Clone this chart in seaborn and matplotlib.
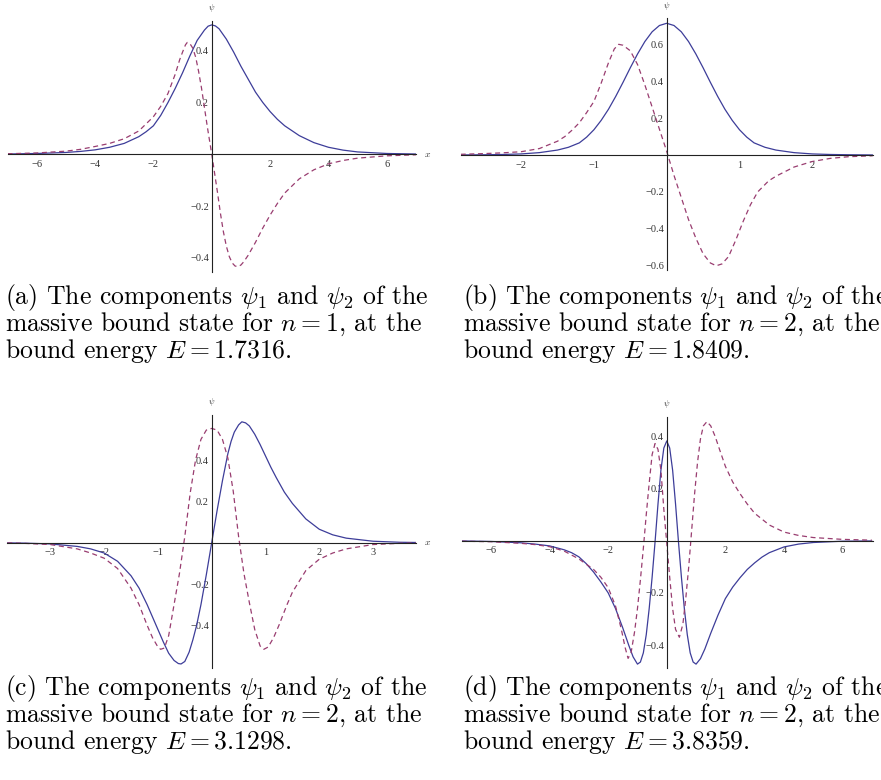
import matplotlib
matplotlib.use("Agg")
import matplotlib.pyplot as plt
import seaborn as sns

# ---------------- data ----------------
# (a) n = 1, E = 1.7316
xa_psi1 = [-7, -6, -5, -4.5, -4, -3.5, -3, -2.5, -2.25, -2, -1.75, -1.5, -1.25, -1, -0.75, -0.5, -0.25, -0.125, 0,
           0.125, 0.25, 0.5, 0.75, 1, 1.25, 1.5, 1.75, 2, 2.25, 2.5, 3, 3.5, 4, 4.5, 5, 6, 7]
ya_psi1 = [0.001, 0.003, 0.007, 0.011, 0.017, 0.027, 0.042, 0.068, 0.087, 0.11, 0.15, 0.2, 0.255, 0.315, 0.38, 0.44,
           0.48, 0.495, 0.5,
           0.496, 0.485, 0.445, 0.395, 0.34, 0.29, 0.24, 0.2, 0.165, 0.135, 0.11, 0.072, 0.045, 0.027, 0.016, 0.009,
           0.003, 0.001]
xa_psi2 = [-7, -6, -5, -4.5, -4, -3.5, -3, -2.5, -2, -1.75, -1.5, -1.25, -1.1, -1, -0.9, -0.84, -0.75, -0.65, -0.55,
           -0.45, -0.35, -0.25, -0.15, -0.05, 0, 0.1, 0.2, 0.3, 0.4, 0.5, 0.6, 0.7, 0.8, 0.9, 1.0, 1.1, 1.25, 1.5,
           1.75, 2, 2.25, 2.5, 3, 3.5, 4, 4.5, 5, 6, 7]
ya_psi2 = [0.002, 0.005, 0.012, 0.019, 0.03, 0.042, 0.06, 0.09, 0.145, 0.185, 0.235, 0.31, 0.365, 0.395, 0.423, 0.432,
           0.428, 0.41, 0.375, 0.32, 0.255, 0.18, 0.105, 0.035, 0.0, -0.075, -0.15, -0.23, -0.3, -0.355, -0.395, -0.42,
           -0.432, -0.434, -0.428, -0.415, -0.39, -0.34, -0.285, -0.235, -0.19, -0.15, -0.095, -0.06, -0.037, -0.024,
           -0.015, -0.006, -0.002]

# (b) n = 2, E = 1.8409
xb_psi1 = [-2.83, -2.5, -2.25, -2, -1.75, -1.5, -1.35, -1.2, -1.1, -1.0, -0.9, -0.8, -0.7, -0.6, -0.5, -0.4, -0.3, -0.2,
           -0.1, 0, 0.1, 0.2, 0.3, 0.4, 0.5, 0.6, 0.7, 0.8, 0.9, 1.0, 1.1, 1.2, 1.35, 1.5, 1.75, 2, 2.25, 2.5, 2.83]
yb_psi1 = [0.0005, 0.0015, 0.003, 0.006, 0.013, 0.027, 0.042, 0.066, 0.097, 0.137, 0.188, 0.248, 0.318, 0.394, 0.473,
           0.548, 0.615, 0.668, 0.702, 0.714, 0.702, 0.668, 0.615, 0.548, 0.473, 0.394, 0.318, 0.248, 0.188, 0.137,
           0.097, 0.066, 0.042, 0.027, 0.013, 0.006, 0.003, 0.0015, 0.0005]
xb_psi2 = [-2.83, -2.5, -2.25, -2, -1.75, -1.5, -1.4, -1.3, -1.2, -1.1, -1.0, -0.9, -0.8, -0.72, -0.66, -0.6, -0.5,
           -0.4, -0.3, -0.2, -0.1, 0, 0.1, 0.2, 0.3, 0.4, 0.5, 0.6, 0.68, 0.76, 0.85, 0.95, 1.05, 1.15, 1.25, 1.4,
           1.5, 1.75, 2.0, 2.25, 2.5, 2.83]
yb_psi2 = [0.004, 0.008, 0.012, 0.018, 0.035, 0.075, 0.1, 0.135, 0.175, 0.23, 0.29, 0.39, 0.5, 0.575, 0.6, 0.595,
           0.565, 0.49, 0.38, 0.26, 0.14, 0.02, -0.11, -0.23, -0.35, -0.45, -0.535, -0.585, -0.6, -0.59, -0.55,
           -0.46, -0.36, -0.27, -0.2, -0.14, -0.115, -0.065, -0.035, -0.018, -0.009, -0.004]

# (c) n = 2, E = 3.1298
xc_psi1 = [-3.8, -3.5, -3, -2.5, -2.25, -2, -1.75, -1.5, -1.35, -1.2, -1.1, -1.0, -0.9, -0.8, -0.7, -0.62, -0.57, -0.5,
           -0.42, -0.35, -0.28, -0.2, -0.1, 0, 0.1, 0.2, 0.3, 0.36, 0.42, 0.5, 0.56, 0.63, 0.7, 0.8, 0.9, 1.0, 1.1,
           1.2, 1.35, 1.5, 1.75, 2, 2.25, 2.5, 3, 3.5, 3.8]
yc_psi1 = [-0.001, -0.002, -0.006, -0.018, -0.03, -0.05, -0.09, -0.16, -0.22, -0.3, -0.36, -0.42, -0.48, -0.535, -0.57,
           -0.585, -0.587, -0.575, -0.53, -0.47, -0.4, -0.3, -0.155, 0.0, 0.155, 0.3, 0.43, 0.49, 0.535, 0.57, 0.585,
           0.58, 0.565, 0.525, 0.475, 0.42, 0.365, 0.315, 0.245, 0.19, 0.115, 0.065, 0.038, 0.022, 0.007, 0.002, 0.001]
xc_psi2 = [-3.8, -3.5, -3, -2.5, -2.25, -2, -1.75, -1.5, -1.35, -1.2, -1.1, -1.0, -0.95, -0.88, -0.8, -0.7, -0.6, -0.5,
           -0.4, -0.3, -0.2, -0.1, 0, 0.1, 0.2, 0.3, 0.4, 0.5, 0.6, 0.7, 0.8, 0.9, 0.97, 1.05, 1.15, 1.25, 1.4, 1.5,
           1.75, 2, 2.25, 2.5, 3, 3.5, 3.8]
yc_psi2 = [-0.001, -0.003, -0.009, -0.03, -0.05, -0.075, -0.125, -0.22, -0.3, -0.4, -0.46, -0.505, -0.516, -0.51,
           -0.45, -0.3, -0.15, 0.03, 0.24, 0.4, 0.5, 0.545, 0.553, 0.545, 0.5, 0.41, 0.25, 0.03, -0.15, -0.29, -0.42,
           -0.5, -0.516, -0.505, -0.46, -0.4, -0.3, -0.24, -0.135, -0.08, -0.05, -0.03, -0.009, -0.003, -0.001]

# (d) n = 2, E = 3.8359
xd_psi1 = [-7, -6, -5, -4.5, -4, -3.5, -3.25, -3, -2.75, -2.5, -2.25, -2, -1.75, -1.5, -1.3, -1.15, -1.0, -0.9, -0.8,
           -0.7, -0.6, -0.5, -0.4, -0.3, -0.2, -0.1, 0, 0.1, 0.2, 0.3, 0.4, 0.5, 0.6, 0.7, 0.8, 0.9, 1.0, 1.15, 1.3,
           1.5, 1.75, 2, 2.25, 2.5, 2.75, 3, 3.25, 3.5, 4, 4.5, 5, 6, 7]
yd_psi1 = [-0.001, -0.003, -0.008, -0.013, -0.02, -0.035, -0.046, -0.062, -0.088, -0.12, -0.158, -0.2, -0.26, -0.335,
           -0.4, -0.445, -0.473, -0.465, -0.43, -0.36, -0.26, -0.14, -0.005, 0.14, 0.27, 0.355, 0.382, 0.355, 0.27,
           0.14, -0.005, -0.14, -0.26, -0.36, -0.43, -0.465, -0.473, -0.452, -0.415, -0.355, -0.285, -0.222, -0.178,
           -0.142, -0.11, -0.085, -0.063, -0.046, -0.024, -0.013, -0.007, -0.002, -0.001]
xd_psi2 = [-7, -6, -5, -4.5, -4, -3.5, -3, -2.5, -2.25, -2, -1.75, -1.55, -1.42, -1.32, -1.22, -1.1, -1.0, -0.9, -0.8,
           -0.7, -0.6, -0.5, -0.4, -0.3, -0.2, -0.1, 0, 0.1, 0.2, 0.3, 0.43, 0.55, 0.65, 0.75, 0.85, 0.95, 1.05, 1.15,
           1.25, 1.37, 1.5, 1.65, 1.8, 2, 2.25, 2.5, 2.75, 3, 3.5, 4, 4.5, 5, 6, 7]
yd_psi2 = [-0.002, -0.004, -0.01, -0.015, -0.023, -0.04, -0.07, -0.11, -0.14, -0.18, -0.25, -0.34, -0.41, -0.451,
           -0.43, -0.35, -0.26, -0.15, -0.03, 0.1, 0.22, 0.33, 0.372, 0.35, 0.27, 0.12, -0.01, -0.14, -0.26, -0.34,
           -0.37, -0.32, -0.22, -0.1, 0.04, 0.18, 0.3, 0.39, 0.44, 0.456, 0.44, 0.4, 0.35, 0.285, 0.225, 0.18, 0.14,
           0.105, 0.06, 0.033, 0.02, 0.012, 0.005, 0.002]

# tick values and labels
xticks_a = [-6, -4, -2, 2, 4, 6]
yticks_a = [-0.4, -0.2, 0.2, 0.4]
xticks_b = [-2, -1, 1, 2]
yticks_b = [-0.6, -0.4, -0.2, 0.2, 0.4, 0.6]
xticks_c = [-3, -2, -1, 1, 2, 3]
yticks_c = [-0.4, -0.2, 0.2, 0.4]
xticks_d = [-6, -4, -2, 2, 4, 6]
yticks_d = [-0.4, -0.2, 0.2, 0.4]

captions_a = [r"(a) The components $\psi_1$ and $\psi_2$ of the",
              r"massive bound state for $n=1$, at the",
              r"bound energy $E=1.7316$."]
captions_b = [r"(b) The components $\psi_1$ and $\psi_2$ of the",
              r"massive bound state for $n=2$, at the",
              r"bound energy $E=1.8409$."]
captions_c = [r"(c) The components $\psi_1$ and $\psi_2$ of the",
              r"massive bound state for $n=2$, at the",
              r"bound energy $E=3.1298$."]
captions_d = [r"(d) The components $\psi_1$ and $\psi_2$ of the",
              r"massive bound state for $n=2$, at the",
              r"bound energy $E=3.8359$."]

# ---------------- style ----------------
sns.set_style("white")
plt.rcParams["mathtext.fontset"] = "cm"
plt.rcParams["lines.scale_dashes"] = False
plt.rcParams["font.family"] = ["Liberation Serif", "DejaVu Serif"]

W, H = 881, 780
fig = plt.figure(figsize=(W / 100, H / 100), dpi=100)

BLUE = "#3d3d99"
MAGENTA = "#993d70"


def fmt(v):
    s = ("%g" % abs(v))
    return ("\u2212" + s) if v < 0 else s


def panel(box, xlim, ylim, x1, y1, x2, y2, xt, yt, show_x=True):
    l, r, t, b = box
    ax = fig.add_axes([l / W, 1 - b / H, (r - l) / W, (b - t) / H])
    ax.set_facecolor("none")
    sns.lineplot(x=x1, y=y1, ax=ax, color=BLUE, lw=0.9, estimator=None, sort=False)
    sns.lineplot(x=x2, y=y2, ax=ax, color=MAGENTA, lw=0.9, estimator=None, sort=False,
                 linestyle=(0, (3.6, 2.6)))
    ax.set_xlim(*xlim)
    ax.set_ylim(*ylim)
    for s in ("top", "right"):
        ax.spines[s].set_visible(False)
    for s in ("left", "bottom"):
        ax.spines[s].set_position(("data", 0))
        ax.spines[s].set_color("#222222")
        ax.spines[s].set_linewidth(0.8)
    ax.set_xticks(xt)
    ax.set_xticklabels([fmt(v) for v in xt])
    ax.set_yticks(yt)
    ax.set_yticklabels([fmt(v) for v in yt])
    ax.tick_params(axis="x", direction="in", length=3, width=0.6, labelsize=7.5,
                   labelcolor="#333333", pad=4)
    ax.tick_params(axis="y", direction="in", length=3, width=0.6, labelsize=7.5,
                   labelcolor="#333333", pad=2)
    ax.set_xlabel("")
    ax.set_ylabel("")
    ax.annotate(r"$\psi$", xy=(0, ylim[1]), xycoords="data", xytext=(0, 9),
                textcoords="offset points", ha="center", va="center", fontsize=6,
                color="#333333", annotation_clip=False)
    if show_x:
        ax.annotate(r"$x$", xy=(xlim[1], 0), xycoords="data", xytext=(6, 0),
                    textcoords="offset points", ha="left", va="center", fontsize=7,
                    color="#333333", annotation_clip=False)
    return ax


panel((7.5, 416, 21, 272), (-7, 7), (-0.455, 0.515), xa_psi1, ya_psi1, xa_psi2, ya_psi2, xticks_a, yticks_a)
panel((460.7, 872.7, 18.3, 270), (-2.83, 2.83), (-0.623, 0.741), xb_psi1, yb_psi1, xb_psi2, yb_psi2, xticks_b,
      yticks_b, show_x=False)
panel((7.3, 416.1, 415, 668.3), (-3.8, 3.8), (-0.608, 0.618), xc_psi1, yc_psi1, xc_psi2, yc_psi2, xticks_c, yticks_c)
panel((461.7, 873.3, 416.7, 668.3), (-7, 7.05), (-0.489, 0.475), xd_psi1, yd_psi1, xd_psi2, yd_psi2, xticks_d,
      yticks_d, show_x=False)


def caption(x0, y0, lines):
    for i, s in enumerate(lines):
        fig.text(x0 / W, 1 - (y0 + 27 * i) / H, s, fontsize=18.5, family="cmr10",
                 ha="left", va="baseline", color="black")


caption(5, 304, captions_a)
caption(463, 304, captions_b)
caption(5, 695, captions_c)
caption(463, 695, captions_d)

fig.savefig("out.png", dpi=100)
